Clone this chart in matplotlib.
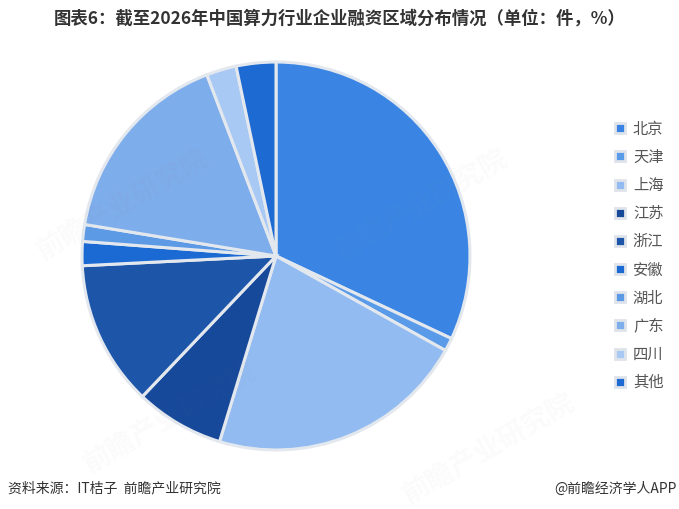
import matplotlib
matplotlib.use("Agg")
import matplotlib.pyplot as plt
from matplotlib.lines import Line2D

plt.rcParams['font.family'] = ['Noto Sans CJK SC', 'DejaVu Sans']

regions = ["北京", "天津", "上海", "江苏", "浙江", "安徽", "湖北", "广东", "四川", "其他"]
shares = [32.0, 1.1, 21.6, 7.4, 12.1, 2.0, 1.4, 16.6, 2.5, 3.3]
colors = ["#3a85e3", "#5a9be9", "#92bbf1", "#16499a", "#1d56a9",
          "#1b6ad3", "#5d9ae6", "#7eadeb", "#a8c9f3", "#1d6ad2"]

title = "图表6：截至2026年中国算力行业企业融资区域分布情况（单位：件，%）"
source = "资料来源：IT桔子  前瞻产业研究院"
credit = "@前瞻经济学人APP"

fig = plt.figure(figsize=(6.79, 5.09), dpi=100)
fig.patch.set_facecolor("white")

ax = fig.add_axes([0.1208, 0.1159, 0.5714, 0.7623])
ax.pie(shares, colors=colors, startangle=90, counterclock=False, radius=1.0,
       wedgeprops=dict(edgecolor="#e3e8ef", linewidth=2.2))
ax.set_xlim(-1.0, 1.0)
ax.set_ylim(-1.0, 1.0)
ax.set_aspect("equal")
ax.axis("off")

# faint watermarks
for (x, y) in [(0.18, 0.60), (0.62, 0.60), (0.25, 0.18), (0.72, 0.12)]:
    fig.text(x, y, "前瞻产业研究院", fontsize=20, color="#888888", alpha=0.035,
             rotation=30, ha="center", va="center", fontweight="bold")

handles = [Line2D([0], [0], marker="s", linestyle="none", markersize=7,
                  markerfacecolor=c, markeredgecolor="#dfe4ea", markeredgewidth=2.0)
           for c in colors]
leg = fig.legend(handles, regions, loc="upper left", bbox_to_anchor=(0.895, 0.775),
                 frameon=False, fontsize=11, labelspacing=0.73, handlelength=0.8,
                 handletextpad=0.45, borderaxespad=0)
for t in leg.get_texts():
    t.set_color("#555555")

fig.text(0.5, 0.963, title, ha="center", va="center", fontsize=12.5,
         fontweight="bold", color="#333333")
fig.text(0.012, 0.04, source, ha="left", va="center", fontsize=10, color="#333333")
fig.text(0.996, 0.04, credit, ha="right", va="center", fontsize=10, color="#333333")

fig.savefig("out.png", dpi=100)
